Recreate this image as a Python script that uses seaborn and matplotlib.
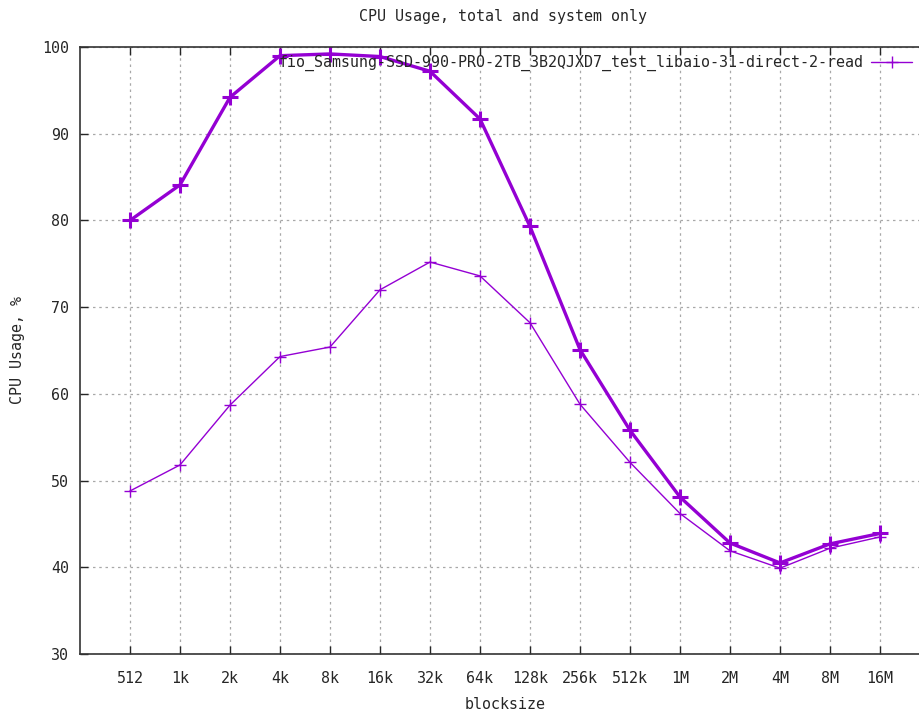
import matplotlib
matplotlib.use("Agg")
import matplotlib.pyplot as plt
import pandas as pd
import seaborn as sns

blocksizes = ['512', '1k', '2k', '4k', '8k', '16k', '32k', '64k', '128k', '256k',
              '512k', '1M', '2M', '4M', '8M', '16M']
cpu_total = [80.0, 84.1, 94.2, 99.0, 99.2, 98.9, 97.2, 91.7, 79.3, 65.1,
             55.8, 48.1, 42.8, 40.5, 42.7, 43.9]
cpu_system = [48.8, 51.8, 58.7, 64.3, 65.4, 72.0, 75.2, 73.6, 68.2, 58.8,
              52.1, 46.2, 41.9, 39.9, 42.2, 43.5]
legend_label = 'fio_Samsung-SSD-990-PRO-2TB_3B2QJXD7_test_libaio-31-direct-2-read'

df = pd.DataFrame({'pos': range(len(blocksizes)), 'total': cpu_total, 'system': cpu_system})

sns.set_style('white')
plt.rcParams['font.family'] = ['DejaVu Sans Mono', 'DejaVu Sans']
plt.rcParams['font.size'] = 10.8

purple = '#9400D3'
fig = plt.figure(figsize=(9.2, 7.16), dpi=100)
ax = fig.add_axes([80 / 920, 1 - 654 / 716, 850 / 920, (654 - 47) / 716])

# total usage: thick line, no legend entry
sns.lineplot(data=df, x='pos', y='total', ax=ax, color=purple, lw=2.4,
             marker='+', markersize=11, markeredgewidth=2.2, markeredgecolor=purple,
             sort=False, label='_nolegend_')
# system only: thin line
sns.lineplot(data=df, x='pos', y='system', ax=ax, color=purple, lw=1.0,
             marker='+', markersize=9, markeredgewidth=1.0, markeredgecolor=purple,
             sort=False, label=legend_label)

ax.set_xlim(-1, 16)
ax.set_ylim(30, 100)
ax.set_xticks(df['pos'])
ax.set_xticklabels(blocksizes)
ax.set_yticks(range(30, 101, 10))
ax.tick_params(axis='x', direction='in', length=6, width=1, pad=12, top=True, bottom=True)
ax.tick_params(axis='y', direction='in', length=6, width=1, pad=8, left=True, right=False)
ax.grid(True, color='#a8a8a8', linestyle=(0, (2, 3)), lw=0.9)
for s in ax.spines.values():
    s.set_color('#333333')
    s.set_linewidth(1.2)

ax.set_xlabel('blocksize', labelpad=8)
ax.set_ylabel('CPU Usage, %', labelpad=12)
fig.text(503 / 920, 1 - 17 / 716, 'CPU Usage, total and system only', ha='center', va='center')

ax.legend(loc='center right', bbox_to_anchor=(912 / 920, 1 - 63 / 716),
          bbox_transform=fig.transFigure, frameon=False, markerfirst=False,
          handlelength=2.7, handletextpad=0.5, borderpad=0, borderaxespad=0)

fig.savefig('out.png', dpi=100)
